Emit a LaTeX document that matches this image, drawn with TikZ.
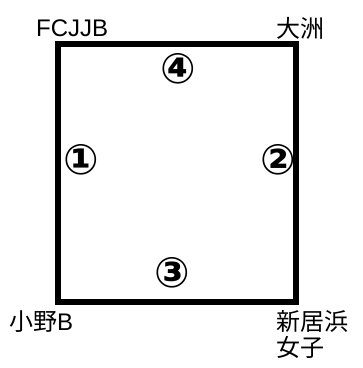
\documentclass[tikz,border=0pt]{standalone}
\usepackage{fontspec}
\setmainfont{Liberation Sans}
\newfontfamily\jpfont{Noto Sans CJK JP}
\newfontfamily\circfont{DejaVu Sans}
\begin{document}
\begin{tikzpicture}[x=1pt,y=1pt,
  lbl/.style={inner sep=0pt,font=\fontsize{24}{26}\selectfont},
  jlbl/.style={inner sep=0pt,font=\jpfont\fontsize{24}{26}\selectfont},
  num/.style={inner sep=0pt,font=\circfont\bfseries\fontsize{42}{42}\selectfont},
  court/.style={line width=6pt,line join=miter}]
\useasboundingbox (0,0) rectangle (363,368);
\coordinate (tl) at (58.5,324);
\coordinate (tr) at (296,324);
\coordinate (br) at (296,66);
\coordinate (bl) at (58.5,66);
\draw[court] (tl) -- (tr) -- (br) -- (bl) -- cycle;
\node[lbl,anchor=west] (fc) at (36,340) {FCJJB};
\node[jlbl,anchor=west] (oz) at (276,340) {大洲};
\node[jlbl,anchor=west] (ono) at (9,46) {小野\rmfamily B};
\node[jlbl,anchor=north west,align=left] (nii) at (276,58) {新居浜\\女子};
\node[num] (n4) at (178,299) {④};
\node[num] (n1) at (81,208) {①};
\node[num] (n2) at (278,208) {②};
\node[num] (n3) at (172,95) {③};
\end{tikzpicture}
\end{document}
